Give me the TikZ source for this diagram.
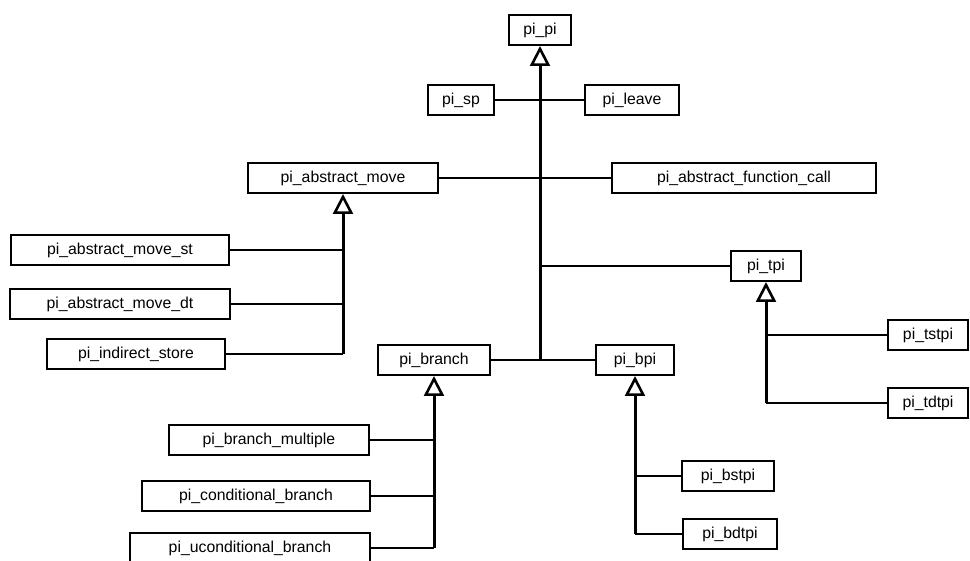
\documentclass[tikz,border=0pt]{standalone}
\usepackage{fontspec}
\setmainfont{Liberation Sans}
\usetikzlibrary{arrows.meta}

\tikzset{
  cls/.style={draw=black, line width=2pt, fill=white, inner sep=0pt,
              minimum height=30pt, font=\fontsize{15.8}{18}\selectfont},
  link/.style={line width=2pt},
  inherit/.style={line width=3pt,
                  -{Triangle[open, length=20pt, width=20pt, line width=2.6pt]}}
}

\begin{document}
\begin{tikzpicture}[x=1pt, y=-1pt]
\useasboundingbox (0,0) rectangle (970,561);

% root and its direct children
\node[cls, minimum width=62pt]  (pipi)   at (540,30)  {pi\_pi};
\node[cls, minimum width=66pt]  (sp)     at (461,100) {pi\_sp};
\node[cls, minimum width=94pt]  (leave)  at (632,100) {pi\_leave};
\node[cls, minimum width=190pt] (amove)  at (343,178) {pi\_abstract\_move};
\node[cls, minimum width=264pt] (afcall) at (744,178) {pi\_abstract\_function\_call};
\node[cls, minimum width=70pt]  (tpi)    at (766,266) {pi\_tpi};
\node[cls, minimum width=112pt] (branch) at (434,360) {pi\_branch};
\node[cls, minimum width=78pt]  (bpi)    at (635,360) {pi\_bpi};

% children of pi_abstract_move
\node[cls, minimum width=218pt] (movest) at (120,250) {pi\_abstract\_move\_st};
\node[cls, minimum width=220pt] (movedt) at (120,304) {pi\_abstract\_move\_dt};
\node[cls, minimum width=178pt] (istore) at (136,354) {pi\_indirect\_store};

% children of pi_tpi
\node[cls, minimum width=80pt]  (tstpi)  at (928,335) {pi\_tstpi};
\node[cls, minimum width=80pt]  (tdtpi)  at (928,403) {pi\_tdtpi};

% children of pi_bpi
\node[cls, minimum width=92pt]  (bstpi)  at (728,476) {pi\_bstpi};
\node[cls, minimum width=94pt]  (bdtpi)  at (730,534) {pi\_bdtpi};

% children of pi_branch
\node[cls, minimum width=200pt] (bmult)  at (269,440) {pi\_branch\_multiple};
\node[cls, minimum width=228pt] (cbr)    at (256,496) {pi\_conditional\_branch};
\node[cls, minimum width=240pt] (ucbr)   at (250,548) {pi\_uconditional\_branch};

% bottom ends of the inheritance trunks
\coordinate (rootEnd)   at (pipi.south |- branch.east);
\coordinate (rootTpi)   at (pipi.south |- tpi.west);
\coordinate (amoveEnd)  at (amove.south |- istore.east);
\coordinate (tpiEnd)    at (tpi.south |- tdtpi.west);
\coordinate (bpiEnd)    at (bpi.south |- bdtpi.west);
\coordinate (branchEnd) at (branch.south |- ucbr.east);

% trunks with hollow triangle heads
\draw[inherit] (rootEnd)   -- (pipi.south);
\draw[inherit] (amoveEnd)  -- (amove.south);
\draw[inherit] (tpiEnd)    -- (tpi.south);
\draw[inherit] (bpiEnd)    -- (bpi.south);
\draw[inherit] (branchEnd) -- (branch.south);

% branches joining the root trunk
\draw[link] (sp.east) -- (leave.west);
\draw[link] (amove.east) -- (afcall.west);
\draw[link] (rootTpi) -- (tpi.west);
\draw[link] (branch.east) -- (bpi.west);

% branches joining the other trunks
\draw[link] (movest.east) -- (movest.east -| amove.south);
\draw[link] (movedt.east) -- (movedt.east -| amove.south);
\draw[link] (istore.east) -- (amoveEnd);
\draw[link] (tstpi.west) -- (tstpi.west -| tpi.south);
\draw[link] (tdtpi.west) -- (tpiEnd);
\draw[link] (bstpi.west) -- (bstpi.west -| bpi.south);
\draw[link] (bdtpi.west) -- (bpiEnd);
\draw[link] (bmult.east) -- (bmult.east -| branch.south);
\draw[link] (cbr.east) -- (cbr.east -| branch.south);
\draw[link] (ucbr.east) -- (branchEnd);
\end{tikzpicture}
\end{document}
